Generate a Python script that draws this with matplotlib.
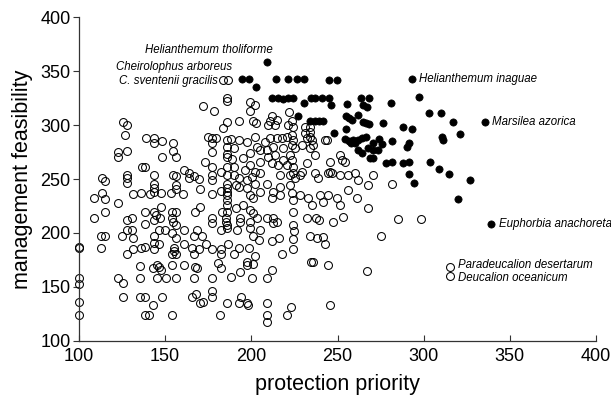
import numpy as np
import matplotlib
matplotlib.use('Agg')
import matplotlib.pyplot as plt

# taxa with low priority / feasibility (open circles)
open_pts = [
    (172.0, 318.0), (178.4, 313.1), (186.1, 324.8), (186.1, 322.3), (125.5, 303.2), (128.1, 300.1),
    (126.5, 290.5), (138.7, 287.7), (143.5, 288.3), (143.5, 283.1), (148.4, 285.5), (154.8, 283.7),
    (154.8, 276.0), (156.5, 270.7), (148.4, 270.7), (128.1, 276.0), (122.8, 274.7), (122.8, 270.7),
    (175.1, 289.2), (177.0, 288.3), (179.3, 288.3), (177.4, 283.1), (177.4, 275.3), (183.6, 297.0),
    (186.1, 303.2), (192.9, 303.8), (186.1, 286.1), (188.0, 287.1), (192.9, 286.1), (186.1, 280.0),
    (190.0, 279.0), (186.1, 272.9), (186.1, 270.7), (189.0, 268.5), (173.1, 266.1), (177.4, 261.4),
    (182.2, 256.8), (186.1, 261.4), (190.0, 261.4), (186.1, 253.7), (190.0, 253.7), (192.9, 250.6),
    (136.8, 261.4), (138.1, 261.4), (113.2, 251.2), (115.1, 248.1), (128.1, 253.7), (128.1, 251.2),
    (128.1, 246.0), (143.5, 253.7), (143.5, 245.0), (143.5, 241.3), (143.5, 237.6), (141.0, 236.1),
    (154.8, 253.7), (156.1, 253.1), (156.1, 244.4), (161.0, 258.3), (163.9, 255.2), (163.9, 250.6),
    (166.8, 253.1), (169.7, 250.0), (170.0, 240.7), (177.0, 253.7), (177.0, 249.1), (177.0, 235.8),
    (182.2, 238.9), (186.1, 245.0), (186.1, 241.3), (186.1, 238.2), (186.1, 235.1), (186.1, 230.5),
    (186.1, 225.9), (190.9, 244.4), (192.9, 242.9), (108.7, 232.0), (113.2, 236.7), (115.1, 231.4),
    (122.8, 227.4), (131.5, 236.1), (135.8, 236.7), (147.4, 236.7), (153.2, 236.7), (156.1, 240.7),
    (160.4, 235.8), (147.4, 224.3), (138.3, 219.7), (143.5, 219.7), (144.9, 216.6), (154.2, 219.7),
    (156.1, 219.1), (167.3, 219.7), (170.0, 224.3), (183.2, 219.1), (186.1, 219.1), (190.9, 222.8),
    (115.1, 219.1), (183.8, 341.9), (186.7, 341.9),
    (199.2, 321.1), (202.1, 318.6), (199.2, 313.1), (222.0, 312.4), (201.1, 303.8), (202.7, 301.6),
    (211.8, 308.7), (210.8, 303.8), (215.1, 304.7), (213.7, 300.1), (209.8, 300.1), (223.4, 303.8),
    (221.5, 300.1), (224.0, 298.5), (231.1, 298.5), (234.0, 298.5), (234.0, 293.9), (231.1, 292.3),
    (234.0, 289.2), (197.3, 284.6), (202.1, 289.2), (203.1, 280.0), (207.9, 284.6), (210.8, 288.3),
    (214.7, 287.7), (217.6, 287.7), (220.5, 289.2), (223.4, 290.8), (224.4, 286.1), (223.4, 281.5),
    (225.3, 278.4), (218.6, 278.4), (212.8, 280.0), (208.9, 276.9), (205.0, 276.9), (199.2, 273.8),
    (232.1, 287.7), (235.0, 286.1), (236.0, 281.5), (229.2, 281.5), (234.0, 278.4), (242.7, 286.1),
    (243.7, 286.1), (195.3, 269.2), (199.2, 263.0), (196.3, 258.3), (202.1, 256.8), (205.0, 255.2),
    (200.2, 252.2), (197.3, 249.1), (205.0, 266.1), (209.8, 270.7), (211.8, 264.5), (215.7, 263.0),
    (213.7, 272.2), (218.6, 267.6), (220.5, 263.0), (222.4, 272.2), (223.4, 267.6), (224.4, 261.4),
    (216.6, 253.7), (222.4, 253.7), (224.4, 255.2), (225.3, 250.6), (228.2, 253.7), (229.2, 256.8),
    (232.1, 264.5), (236.9, 255.2), (238.9, 250.6), (236.9, 272.2), (245.6, 266.1), (244.7, 255.2),
    (246.6, 255.2), (251.5, 253.7), (251.5, 272.2), (252.4, 267.6), (254.4, 266.1), (256.3, 253.7),
    (260.2, 255.2), (262.1, 249.1), (267.9, 244.4), (270.8, 253.7), (281.4, 245.0), (245.6, 256.8),
    (197.3, 241.3), (202.1, 245.0), (201.1, 232.0), (199.2, 235.1), (205.0, 238.2), (208.9, 245.0),
    (212.8, 238.2), (211.8, 232.0), (216.6, 242.9), (216.6, 235.1), (222.4, 244.4), (223.4, 236.7),
    (224.4, 230.5), (228.2, 235.1), (233.1, 232.0), (235.0, 225.9), (239.8, 235.1), (241.8, 229.0),
    (244.7, 235.1), (249.5, 232.0), (251.5, 225.9), (256.3, 239.8), (261.1, 232.0), (267.9, 222.8),
    (224.4, 219.7), (199.2, 221.2), (201.1, 218.1), (195.3, 225.9),
    (193.4, 213.5), (193.4, 210.4), (199.2, 210.4), (199.2, 204.2), (205.0, 202.7), (201.1, 197.4),
    (204.6, 193.4), (203.1, 214.1), (208.9, 214.1), (212.8, 213.5), (212.8, 208.9), (215.1, 209.8),
    (211.8, 192.5), (216.2, 195.6), (224.4, 207.3), (224.7, 201.8), (224.4, 194.3), (224.4, 184.8),
    (218.0, 180.1), (232.1, 213.5), (239.5, 212.0), (237.5, 214.1), (247.2, 210.4), (253.0, 215.1),
    (234.0, 197.4), (237.9, 195.6), (241.4, 196.5), (242.7, 189.7), (198.8, 185.7), (202.1, 178.9),
    (197.7, 173.3), (197.7, 170.2), (201.1, 170.8), (211.8, 165.6), (208.9, 158.5), (200.2, 157.9),
    (234.4, 173.3), (235.6, 173.3), (244.7, 170.2), (267.3, 165.0), (275.3, 197.4), (285.3, 212.6),
    (197.7, 134.7), (198.2, 133.1), (209.3, 134.7), (209.3, 123.8), (209.3, 117.7), (220.5, 123.8),
    (222.8, 131.3), (245.6, 133.1), (298.5, 212.5),
    (108.7, 214.1), (128.1, 212.0), (131.0, 214.1), (127.7, 202.7), (131.0, 202.7), (138.1, 208.0),
    (143.5, 212.0), (147.0, 213.5), (154.2, 214.1), (154.6, 210.4), (156.1, 207.3), (161.0, 202.7),
    (168.7, 202.7), (177.4, 213.5), (177.4, 208.9), (182.2, 202.7), (185.1, 214.1), (185.1, 210.4),
    (186.1, 207.3), (186.1, 204.9), (191.9, 202.7), (112.6, 197.4), (115.1, 197.4), (125.2, 197.4),
    (131.3, 195.0), (143.5, 197.4), (146.4, 202.7), (149.9, 202.7), (156.1, 195.0), (166.8, 197.4),
    (171.2, 197.4), (100.0, 187.2), (100.0, 185.7), (112.6, 185.7), (128.1, 180.1), (131.3, 185.1),
    (135.8, 185.7), (138.3, 187.2), (143.5, 185.1), (143.5, 190.3), (146.4, 189.4), (153.8, 199.6),
    (155.1, 185.7), (155.1, 183.2), (154.2, 180.1), (156.1, 180.1), (161.0, 189.4), (165.8, 185.7),
    (166.8, 180.1), (169.7, 185.1), (173.5, 189.4), (177.4, 185.1), (182.2, 185.1), (182.2, 180.1),
    (186.7, 189.4), (190.0, 180.1), (192.9, 185.7), (135.4, 169.3), (143.0, 167.7), (145.5, 170.2),
    (146.4, 168.7), (147.4, 165.6), (153.8, 170.2), (161.0, 170.2), (167.3, 168.7), (168.7, 167.7),
    (180.9, 172.4), (182.2, 167.7), (193.5, 164.0), (188.4, 158.8), (100.0, 157.9), (100.0, 152.6),
    (122.8, 157.9), (125.5, 153.2), (135.4, 158.5), (145.5, 158.5), (150.7, 158.5), (156.1, 158.5),
    (166.8, 158.5), (177.4, 158.5), (125.5, 140.8), (135.4, 140.8), (138.1, 140.8), (148.4, 140.8),
    (165.8, 140.8), (167.7, 143.0), (170.0, 134.7), (172.0, 135.6), (177.4, 140.8), (177.4, 146.1),
    (186.1, 134.7), (192.9, 134.7), (193.8, 140.8), (143.0, 133.1), (100.0, 135.6), (100.0, 123.8),
    (138.1, 123.8), (140.6, 123.8), (154.2, 123.8), (181.7, 123.8),
    (315.4, 168.0), (315.4, 160.0),
]

# taxa in the top group (filled circles)
filled_pts = [
    (209.0, 359.0), (194.4, 342.5), (198.7, 342.5), (202.9, 335.3), (214.5, 342.5), (221.5, 342.5),
    (226.7, 342.5), (230.6, 342.5), (245.3, 342.0), (249.9, 342.0), (293.3, 342.5),
    (211.8, 325.5), (215.3, 325.0), (218.2, 324.5), (221.1, 325.0), (224.0, 325.5), (234.5, 325.0),
    (237.2, 325.5), (241.0, 325.0), (245.3, 325.5), (263.5, 324.8), (268.5, 324.8), (297.0, 325.8),
    (230.6, 320.2), (246.0, 318.6), (255.3, 319.3), (265.0, 318.6), (267.3, 317.0), (280.9, 320.2),
    (303.3, 311.0), (309.9, 311.0), (227.1, 308.4), (255.0, 308.4), (256.9, 306.3), (258.3, 304.7),
    (262.0, 309.4), (234.0, 303.8), (237.0, 303.8), (239.5, 303.5), (241.8, 303.8), (265.0, 303.0),
    (266.6, 301.7), (268.5, 301.0), (276.2, 301.7), (316.8, 303.0), (335.6, 303.0),
    (255.0, 296.4), (248.0, 292.4), (287.8, 298.0), (293.3, 296.0), (321.0, 291.7), (310.4, 289.0),
    (311.0, 286.0), (254.4, 286.8), (256.9, 285.5), (259.2, 286.2), (262.1, 286.2), (264.1, 287.8),
    (266.6, 289.2), (257.9, 283.1), (260.2, 283.1), (270.4, 283.7), (274.3, 286.8), (275.7, 282.2),
    (281.8, 285.5), (291.7, 283.1), (290.5, 280.0), (262.1, 277.0), (264.1, 273.8), (267.9, 278.5),
    (270.8, 277.0), (273.7, 277.0), (268.9, 269.3), (270.8, 269.3), (278.2, 264.6), (281.5, 266.0),
    (288.2, 264.6), (291.7, 266.0), (303.7, 266.0), (309.1, 259.0), (314.5, 254.6), (291.7, 254.6),
    (326.9, 249.0), (294.4, 246.6), (320.1, 231.7), (339.1, 208.0),
]

# labelled species: text, x, y, alignment
labels = [
    ('Helianthemum tholiforme', 212.4, 369.7, 'right'),
    ('Cheirolophus arboreus', 189.0, 354.2, 'right'),
    ('C. sventenii gracilis', 180.5, 341.2, 'right'),
    ('Helianthemum inaguae', 297.0, 342.5, 'left'),
    ('Marsilea azorica', 339.8, 303.0, 'left'),
    ('Euphorbia anachoreta', 343.9, 208.0, 'left'),
    ('Paradeucalion desertarum', 320.1, 170.0, 'left'),
    ('Deucalion oceanicum', 320.1, 158.0, 'left'),
]

plt.rcParams['font.family'] = ['Liberation Sans', 'DejaVu Sans']

fig = plt.figure(figsize=(6.11, 3.97), dpi=100)
ax = fig.add_axes([0.1293, 0.1418, 0.8462, 0.8146])

ox, oy = np.array(open_pts).T
fx, fy = np.array(filled_pts).T
ax.plot(ox, oy, 'o', ms=5.7, mfc='none', mec='black', mew=0.75, clip_on=False)
ax.plot(fx, fy, 'o', ms=5.2, mfc='black', mec='black', mew=0.5, clip_on=False)

for txt, x, y, ha in labels:
    ax.text(x, y, txt, ha=ha, va='center', fontsize=8.3, style='italic')

ax.set_xlim(100, 400)
ax.set_ylim(100, 400)
ax.set_xticks(range(100, 401, 50))
ax.set_yticks(range(100, 401, 50))
ax.spines['top'].set_visible(False)
ax.spines['right'].set_visible(False)
for s in ('left', 'bottom'):
    ax.spines[s].set_color('#333333')
    ax.spines[s].set_linewidth(0.9)
ax.tick_params(axis='x', direction='in', length=4, color='#333333', labelsize=13, pad=5)
ax.tick_params(axis='y', direction='out', length=4, color='#333333', labelsize=13, pad=2)

ax.set_xlabel('protection priority', fontsize=15.5, labelpad=7)
ax.set_ylabel('management feasibility', fontsize=15.5, labelpad=5)

fig.savefig('out.png', dpi=100)
